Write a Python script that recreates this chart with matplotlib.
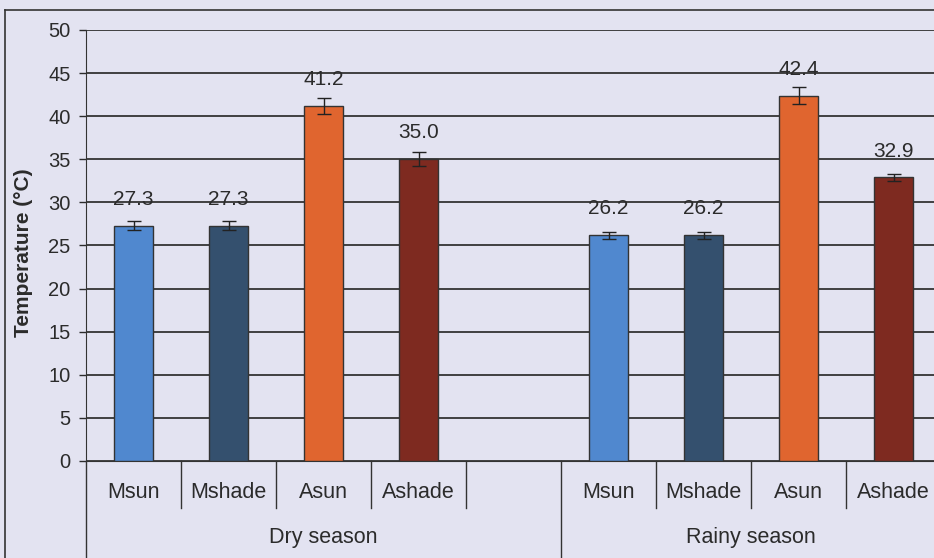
import matplotlib.pyplot as plt
from matplotlib.lines import Line2D

plt.rcParams['font.family'] = ['Liberation Sans', 'DejaVu Sans']

# surface temperature, mean and error per treatment
categories = ['Msun', 'Mshade', 'Asun', 'Ashade', '', 'Msun', 'Mshade', 'Asun', 'Ashade']
seasons = ['Dry season', 'Rainy season']
temps = [27.3, 27.3, 41.2, 35.0, None, 26.2, 26.2, 42.4, 32.9]
errors = [0.5, 0.5, 0.9, 0.8, None, 0.4, 0.4, 1.0, 0.4]
colors = ['#5088cf', '#34506e', '#e0652f', '#7e2a20', None,
          '#5088cf', '#34506e', '#e0652f', '#7e2a20']

bg = '#e3e3f1'
ink = '#2b2b2b'

fig = plt.figure(figsize=(9.34, 5.58), dpi=100)
fig.patch.set_facecolor(bg)

W, H = 934, 558
ax = fig.add_axes([86 / W, 1 - 461 / H, (941 - 86) / W, (461 - 30) / H])
ax.set_facecolor(bg)

xs = [i for i, v in enumerate(temps) if v is not None]
vals = [temps[i] for i in xs]
errs = [errors[i] for i in xs]
cols = [colors[i] for i in xs]

ax.bar(xs, vals, width=0.41, color=cols, edgecolor='#333333', linewidth=1, zorder=3)
ax.errorbar(xs, vals, yerr=errs, fmt='none', ecolor='#222222', elinewidth=1,
            capsize=4.7, capthick=1, zorder=4)
# value labels sit a fixed distance above the bar top
for x, v in zip(xs, vals):
    ax.annotate(f'{v:.1f}', (x, v), xytext=(0, 19), textcoords='offset points',
                ha='center', va='center', fontsize=15, color=ink)

ax.set_xlim(-0.5, 8.5)
ax.set_ylim(0, 50)
ax.set_yticks(range(0, 51, 5))
ax.tick_params(axis='y', labelsize=14.5, colors=ink, length=5, width=1, pad=6)
ax.set_xticks([])
ax.yaxis.grid(True, color='#333333', linewidth=1.3)
ax.set_axisbelow(True)
for s in ['top', 'right']:
    ax.spines[s].set_visible(False)
ax.spines['left'].set_color('#333333')
ax.spines['bottom'].set_color('#333333')
fig.text(24 / W, 1 - 253 / H, 'Temperature (°C)', rotation=90, ha='center', va='center',
         fontsize=15, fontweight='bold', color=ink)

# category and season labels under the axis
tr = ax.get_xaxis_transform()
span = 461 - 30
cat_y = -(492 - 461) / span
sep_short = -(508 - 461) / span
sep_long = -(570 - 461) / span
season_y = -(538 - 461) / span
for i, c in enumerate(categories):
    ax.text(i, cat_y, c, transform=tr, ha='center', va='center', fontsize=15.5, color=ink)
for k in range(10):
    x = k - 0.5
    y1 = sep_long if k in (0, 5) else sep_short
    ax.add_line(Line2D([x, x], [0, y1], transform=tr, color='#333333',
                       linewidth=1, clip_on=False))
ax.text(2, season_y, seasons[0], transform=tr, ha='center', va='center', fontsize=15.5, color=ink)
ax.text(6.5, season_y, seasons[1], transform=tr, ha='center', va='center', fontsize=15.5, color=ink)

# outer chart frame
fig.add_artist(Line2D([5 / W, 5 / W], [0, 1 - 10 / H], color='#333333', linewidth=1.2))
fig.add_artist(Line2D([5 / W, 1], [1 - 10 / H, 1 - 10 / H], color='#333333', linewidth=1.2))

fig.savefig('out.png', dpi=100, facecolor=bg)
